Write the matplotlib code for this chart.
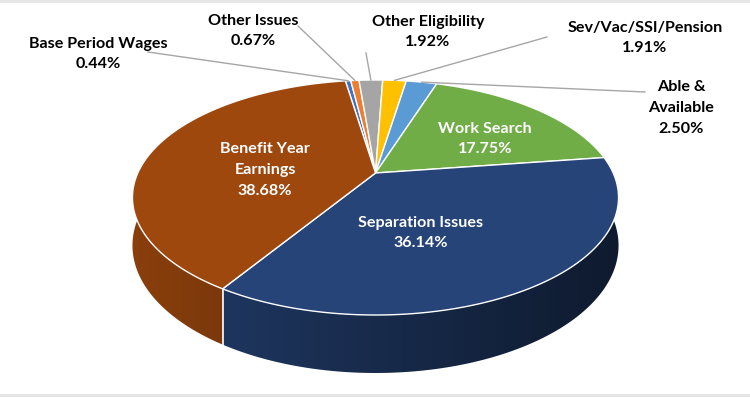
import numpy as np
import matplotlib
matplotlib.use('Agg')
from matplotlib import pyplot as plt
from matplotlib.patches import Polygon
import matplotlib.colors as mcolors

# slices, in the order they are drawn (clockwise from the top)
categories = ['Base Period Wages', 'Other Issues', 'Other Eligibility',
              'Sev/Vac/SSI/Pension', 'Able &\nAvailable', 'Work Search',
              'Separation Issues', 'Benefit Year\nEarnings']
values = [0.44, 0.67, 1.92, 1.91, 2.50, 17.75, 36.14, 38.68]
colors = ['#4472C4', '#ED7D31', '#A5A5A5', '#FFC000', '#5B9BD5',
          '#70AD47', '#264478', '#9E480E']
inside = [False, False, False, False, False, True, True, True]

# where the label blocks sit (pixels)
label_pos = [(98, 54), (253, 31), (428, 32), (645, 38), (681, 108),
             (485, 139), (421, 233), (265, 170)]
# where the leader lines leave the label
leader_start = [(148, 52), (298, 26), (366, 53), (547, 37), (645, 92),
                None, None, None]

# 3d pie geometry in pixels
cx, cy = 375.5, 173.0
A, B, k = 237.7, 112.4, 0.2085
H = 45.9
start = 98.8


def proj(theta, drop=0.0):
    u, v = np.cos(theta), np.sin(theta)
    d = 1 + k * v
    return cx + A * u / d, cy - B * v / d + drop / d


fig = plt.figure(figsize=(7.5, 3.97), dpi=100)
ax = fig.add_axes([0, 0, 1, 1])
ax.set_xlim(0, 750)
ax.set_ylim(397, 0)
ax.axis('off')
ax.axhspan(0, 3, color='#E6E6E6', lw=0)
ax.axhspan(394, 397, color='#E6E6E6', lw=0)

fracs = np.array(values) / sum(values)
edges = np.radians(start - 360 * np.concatenate([[0], np.cumsum(fracs)]))

# shading of the side wall, darker to the right
xs = np.linspace(0, 750, 751)
shade = np.clip(0.87 - 0.001 * (xs - 135), 0.35, 0.95)

# side walls, one polygon per slice with a gradient clipped into it
for i in range(len(values)):
    ts = np.linspace(edges[i], edges[i + 1], max(3, int(fracs[i] * 400)))
    top = [proj(t) for t in ts]
    bot = [proj(t, H) for t in ts[::-1]]
    wall = Polygon(top + bot, closed=True, fc='none', ec='none', zorder=1)
    ax.add_patch(wall)
    rgb = np.array(mcolors.to_rgb(colors[i]))
    img = np.tile((shade[:, None] * rgb)[None, :, :], (2, 1, 1))
    im = ax.imshow(img, extent=[0, 750, 397, 0], aspect='auto',
                   interpolation='bilinear', zorder=1)
    im.set_clip_path(wall)

ax.set_xlim(0, 750)
ax.set_ylim(397, 0)

# white seams on the front wall
for e in edges:
    if np.sin(e) < -k:
        xa, ya = proj(e)
        xb, yb = proj(e, H)
        ax.plot([xa, xb], [ya, yb], color='white', lw=1.2, zorder=2)

# top faces
for i in range(len(values)):
    ts = np.linspace(edges[i], edges[i + 1], max(3, int(fracs[i] * 400)))
    pts = [(cx, cy)] + [proj(t) for t in ts]
    ax.add_patch(Polygon(pts, closed=True, fc=colors[i], ec='white',
                         lw=1.0, zorder=3, joinstyle='round'))

# labels
for i in range(len(values)):
    txt = categories[i] + '\n' + '%.2f%%' % values[i]
    x, y = label_pos[i]
    ax.text(x, y, txt, ha='center', va='center', fontsize=11.6,
            fontweight='bold', family='Lato', linespacing=1.62,
            color='white' if inside[i] else 'black', zorder=5)
    if leader_start[i] is not None:
        mid = (edges[i] + edges[i + 1]) / 2
        ex, ey = proj(mid)
        sx, sy = leader_start[i]
        ax.plot([sx, ex], [sy, ey], color='#A6A6A6', lw=1.0, zorder=4)

fig.savefig('out.png', dpi=100)
